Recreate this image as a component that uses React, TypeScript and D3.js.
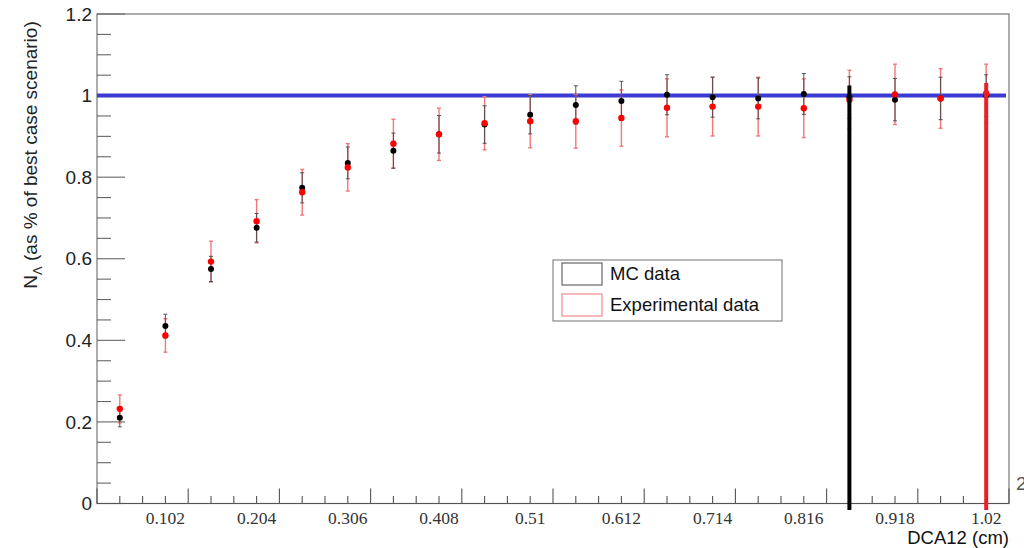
import React from "react";
import * as d3 from "d3";

const binCenters = [0.051, 0.102, 0.153, 0.204, 0.255, 0.306, 0.357, 0.408, 0.459, 0.51, 0.561, 0.612, 0.663, 0.714, 0.765, 0.816, 0.867, 0.918, 0.969, 1.02];
const mcValues = [0.210, 0.435, 0.575, 0.676, 0.774, 0.835, 0.865, 0.905, 0.929, 0.953, 0.977, 0.987, 1.002, 0.996, 0.993, 1.004, 0.995, 0.990, 0.993, 1.000];
const mcErrors = [0.022, 0.029, 0.031, 0.035, 0.037, 0.039, 0.043, 0.046, 0.046, 0.047, 0.047, 0.048, 0.049, 0.049, 0.050, 0.050, 0.051, 0.052, 0.052, 0.051];
const expValues = [0.232, 0.412, 0.593, 0.692, 0.763, 0.824, 0.882, 0.905, 0.932, 0.937, 0.937, 0.945, 0.970, 0.973, 0.973, 0.969, 0.990, 1.003, 0.993, 1.005];
const expErrors = [0.034, 0.041, 0.050, 0.053, 0.056, 0.058, 0.060, 0.064, 0.065, 0.065, 0.066, 0.069, 0.071, 0.072, 0.072, 0.072, 0.072, 0.074, 0.073, 0.072];
const xTickLabels = [0.102, 0.204, 0.306, 0.408, 0.51, 0.612, 0.714, 0.816, 0.918, 1.02];
const yTickLabels = [0, 0.2, 0.4, 0.6, 0.8, 1, 1.2];
const referenceLevel = 1;
const cutLines = [
  { x: 0.867, top: 1.025, color: "#000000" },
  { x: 1.02, top: 1.031, color: "#e8202a" },
];
const legendItems = [
  { label: "MC data", stroke: "#666666" },
  { label: "Experimental data", stroke: "#f08a8a" },
];

const W = 1024;
const H = 548;
const L = 97, R = 1009, T = 14, B = 503.5;

export default function App() {
  const x = d3.scaleLinear().domain([0.0255, 1.0455]).range([L, R]);
  const y = d3.scaleLinear().domain([0, 1.2]).range([B, T]);

  const xMinor = d3.range(0, 41).map((i) => 0.0255 + i * 0.0255);
  const yMinor = d3.range(0, 25).map((i) => i * 0.05);
  const sans = "'Liberation Sans', Arial, Helvetica, sans-serif";
  const serif = "'Liberation Serif', 'Times New Roman', serif";

  return (
    <svg width={W} height={H} style={{ position: "absolute", left: 0, top: 0, background: "#fff" }}>
      {/* frame */}
      <rect x={L} y={T} width={R - L} height={B - T} fill="none" stroke="#777" strokeWidth={1.2} />

      {/* y ticks */}
      {yMinor.map((v, i) => (
        <line key={"ym" + i} x1={L} x2={L + (i % 4 === 0 ? 28 : 14)} y1={y(v)} y2={y(v)} stroke="#666" strokeWidth={1.1} />
      ))}
      {yTickLabels.map((v) => (
        <text key={"yl" + v} x={92} y={y(v)} dy="0.35em" textAnchor="end" fontFamily={sans} fontSize={19} fill="#222">
          {d3.format("~g")(v)}
        </text>
      ))}

      {/* x ticks */}
      {xMinor.map((v, i) => (
        <line key={"xm" + i} x1={x(v)} x2={x(v)} y1={B} y2={B - (i % 4 === 0 ? 15 : 7.5)} stroke="#555" strokeWidth={1.1} />
      ))}
      <line x1={L} x2={R} y1={B} y2={B} stroke="#555" strokeWidth={1.2} />
      {xTickLabels.map((v) => (
        <text key={"xl" + v} x={x(v)} y={524} textAnchor="middle" fontFamily={serif} fontSize={17.5} fill="#333">
          {String(v)}
        </text>
      ))}

      {/* reference line */}
      <line x1={L} x2={1006} y1={y(referenceLevel)} y2={y(referenceLevel)} stroke="#3b3bd2" strokeWidth={4} />

      {/* error bars */}
      {binCenters.map((c, i) => (
        <g key={"ee" + i} stroke="#f07878" strokeWidth={1.4}>
          <line x1={x(c)} x2={x(c)} y1={y(expValues[i] - expErrors[i])} y2={y(expValues[i] + expErrors[i])} />
          <line x1={x(c) - 2} x2={x(c) + 2} y1={y(expValues[i] - expErrors[i])} y2={y(expValues[i] - expErrors[i])} />
          <line x1={x(c) - 2} x2={x(c) + 2} y1={y(expValues[i] + expErrors[i])} y2={y(expValues[i] + expErrors[i])} />
        </g>
      ))}
      {binCenters.map((c, i) => (
        <g key={"me" + i} stroke="#444" strokeWidth={0.9}>
          <line x1={x(c)} x2={x(c)} y1={y(mcValues[i] - mcErrors[i])} y2={y(mcValues[i] + mcErrors[i])} />
          <line x1={x(c) - 2} x2={x(c) + 2} y1={y(mcValues[i] - mcErrors[i])} y2={y(mcValues[i] - mcErrors[i])} />
          <line x1={x(c) - 2} x2={x(c) + 2} y1={y(mcValues[i] + mcErrors[i])} y2={y(mcValues[i] + mcErrors[i])} />
        </g>
      ))}

      {/* points */}
      {binCenters.map((c, i) => (
        <circle key={"mp" + i} cx={x(c)} cy={y(mcValues[i])} r={3} fill="#000" />
      ))}
      {binCenters.map((c, i) => (
        <circle key={"ep" + i} cx={x(c)} cy={y(expValues[i])} r={3.2} fill="#ff0000" />
      ))}

      {/* cut lines */}
      {cutLines.map((cl, i) => (
        <line key={"cl" + i} x1={x(cl.x)} x2={x(cl.x)} y1={y(cl.top)} y2={510} stroke={cl.color} strokeWidth={4} />
      ))}

      {/* legend */}
      <rect x={553} y={260} width={229} height={61} fill="#fff" stroke="#888" strokeWidth={1.2} />
      {legendItems.map((it, i) => (
        <g key={"lg" + i}>
          <rect x={562} y={263 + i * 31} width={40} height={22} fill="#fff" stroke={it.stroke} strokeWidth={1.2} />
          <text x={610} y={274 + i * 31} dy="0.35em" fontFamily={sans} fontSize={18.5} fill="#111">
            {it.label}
          </text>
        </g>
      ))}

      {/* axis titles */}
      <text x={1009} y={544} textAnchor="end" fontFamily={sans} fontSize={18.5} fill="#111">DCA12 (cm)</text>
      <text transform="translate(37,155) rotate(-90)" textAnchor="middle" fontFamily={sans} fontSize={19} fill="#222">
        N<tspan fontSize={13} dy={5}>Λ</tspan>
        <tspan dy={-5}> (as % of best case scenario)</tspan>
      </text>
      <text x={1016} y={490} fontFamily={sans} fontSize={19} fill="#555">2</text>
    </svg>
  );
}
